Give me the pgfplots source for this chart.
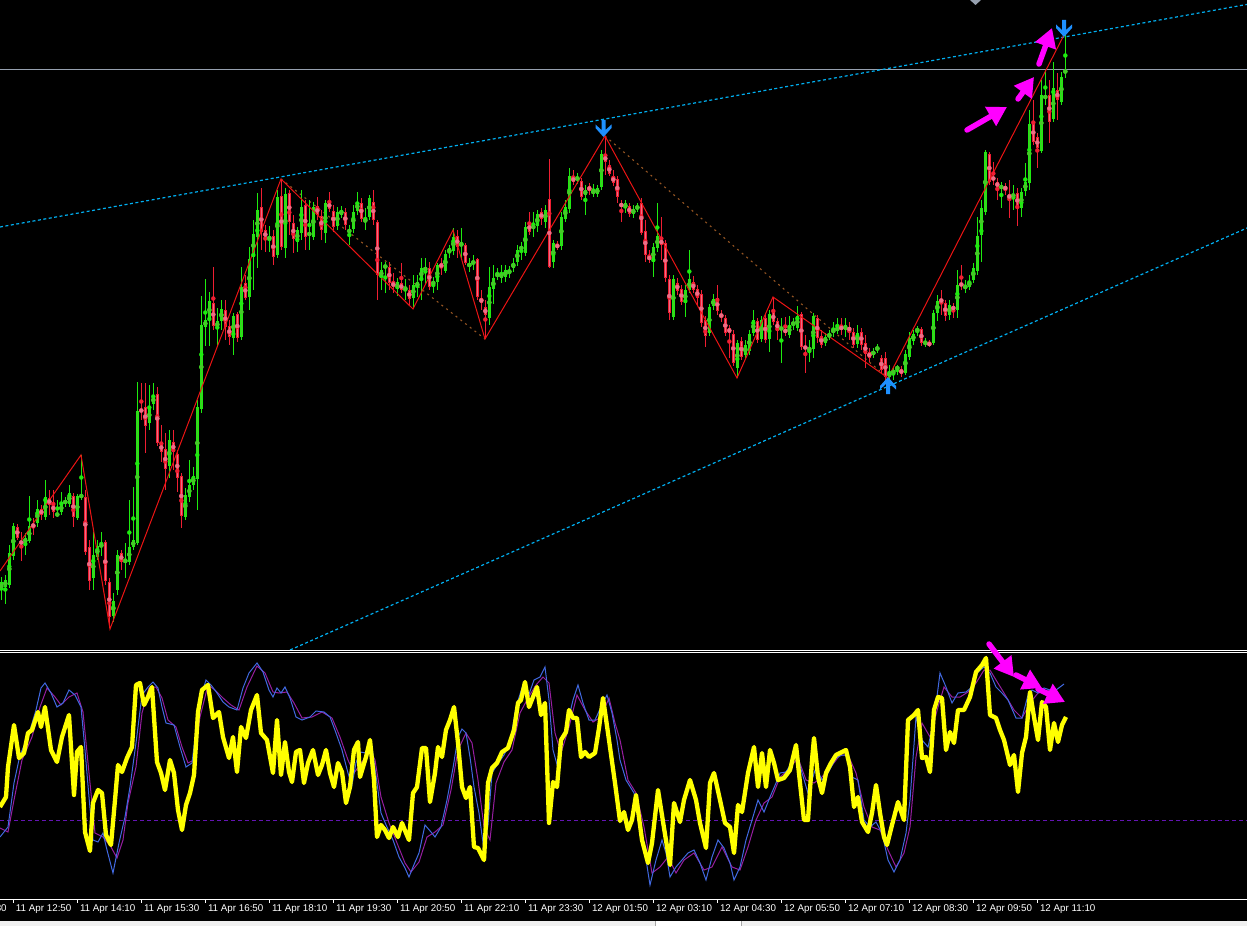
\documentclass[border=0pt]{standalone}
\usepackage{fontspec}
\setmainfont{Liberation Sans}
\usepackage{pgfplots}
\pgfplotsset{compat=1.18}
\usepackage{pgfplotstable}
\usetikzlibrary{arrows.meta}

\definecolor{bullc}{RGB}{30,235,15}
\definecolor{bullin}{RGB}{70,200,40}
\definecolor{bearc}{RGB}{240,30,50}
\definecolor{bearin}{RGB}{235,110,135}
\definecolor{zigc}{RGB}{235,20,20}
\definecolor{chanc}{RGB}{0,175,240}
\definecolor{brownc}{RGB}{150,85,35}
\definecolor{dodger}{RGB}{30,144,255}
\definecolor{hlinec}{RGB}{150,160,175}
\definecolor{stoc}{RGB}{255,255,0}
\definecolor{bluec}{RGB}{65,105,225}
\definecolor{purpc}{RGB}{150,30,160}
\definecolor{levelc}{RGB}{100,20,180}
\definecolor{magc}{RGB}{255,0,255}

% M5 candles, x = candle number (4 px apart), prices in screen rows (top of body, bottom of body, high, low)
\pgfplotstableread{
k t b h l
0 582 590 577 600
1 580 587 575 604
2 553 585 545 588
3 526 556 523 560
6 538 543 533 555
7 526 541 496 543
9 509 523 500 527
11 497 517 480 520
14 513 516 500 517
15 504 512 492 515
16 501 503 497 507
17 493 504 485 507
19 496 518 494 520
20 495 497 455 500
23 555 578 532 590
24 546 557 540 560
25 544 547 532 556
28 601 616 593 622
29 555 590 550 595
31 560 562 543 578
32 547 562 500 565
33 540 547 487 550
34 411 543 382 545
37 407 423 385 430
38 396 404 383 410
42 440 466 430 478
46 495 517 488 520
47 485 497 460 502
48 476 485 467 490
49 407 479 400 510
50 325 409 296 413
51 320 327 279 346
52 301 319 292 346
54 321 328 308 347
55 309 321 300 330
58 316 338 313 355
60 287 337 267 340
62 259 297 247 310
63 234 257 220 290
64 210 237 193 268
67 237 239 226 252
69 197 255 190 258
71 194 248 188 258
74 230 242 227 252
75 207 233 190 240
77 233 235 200 250
78 207 237 202 240
81 203 233 200 243
84 212 226 207 230
85 210 215 206 218
87 230 232 225 245
88 212 229 205 233
89 202 211 192 215
91 219 222 208 230
92 198 217 195 220
95 270 277 262 290
96 265 268 262 293
99 282 289 278 296
101 287 290 279 300
103 285 298 275 308
104 282 287 275 297
105 268 280 258 300
106 267 271 258 285
108 282 284 277 293
109 265 282 263 290
111 254 271 250 273
112 248 253 245 258
113 237 251 228 255
115 243 246 228 260
117 264 266 258 272
118 261 264 255 270
122 287 318 267 325
123 278 289 265 304
124 274 276 268 280
125 273 278 265 283
126 270 277 265 282
127 270 273 266 278
128 263 268 258 272
129 250 262 245 266
130 247 249 242 260
131 227 253 222 256
133 226 228 212 237
134 214 226 210 232
136 210 222 205 228
138 243 262 240 268
140 217 246 212 250
141 207 219 200 222
142 176 209 168 213
144 177 180 173 184
146 190 195 185 215
148 191 193 184 197
149 188 194 185 197
150 154 187 150 190
156 203 208 200 213
158 209 214 205 218
159 206 209 203 212
163 247 262 243 277
164 236 248 203 252
168 279 317 275 320
171 290 303 285 317
172 279 290 250 293
177 307 333 304 336
178 299 306 294 310
184 343 368 340 378
186 345 355 340 358
187 334 351 330 355
188 320 333 310 336
190 320 339 316 342
192 314 339 310 352
195 327 330 318 363
197 325 335 316 338
198 322 325 318 330
199 316 328 306 331
202 347 351 340 362
203 316 349 313 358
206 337 343 333 346
207 334 337 330 340
208 329 333 322 337
209 327 331 318 334
211 325 330 318 337
214 333 344 325 348
218 351 355 348 358
219 347 350 344 353
222 372 377 365 381
223 371 373 367 380
224 367 369 365 375
226 354 373 350 375
227 338 357 332 360
228 334 341 330 345
229 329 331 326 336
231 341 345 338 347
233 313 343 310 345
234 301 313 295 321
237 305 315 300 320
239 285 310 270 318
241 285 289 280 293
242 281 287 275 290
243 268 280 263 283
244 236 271 217 275
245 208 235 200 262
246 152 212 150 215
250 185 189 182 208
253 194 197 185 210
255 192 208 188 217
256 182 191 163 196
257 124 183 110 190
260 95 151 80 153
261 96 98 70 105
263 88 119 62 122
265 77 102 72 105
266 70 73 33 78
}\bulltab

\pgfplotstableread{
k t b h l
4 527 538 524 540
5 541 544 532 561
8 524 527 518 535
10 509 515 505 520
12 498 505 490 515
13 504 512 490 518
18 496 517 493 527
21 497 552 490 555
22 547 581 540 590
26 542 581 540 585
27 582 617 578 628
30 553 562 550 570
35 409 412 383 420
36 407 426 383 453
39 394 443 387 446
40 443 452 425 462
41 449 469 433 490
43 442 452 430 470
44 454 478 450 492
45 476 516 473 528
53 303 326 267 330
56 310 327 300 340
57 326 337 320 345
59 314 338 312 342
61 283 298 275 300
65 207 232 188 250
66 230 239 225 252
68 236 257 230 265
70 196 247 179 250
72 193 222 190 235
73 223 239 215 253
76 205 237 200 250
79 206 215 197 220
80 216 230 210 240
82 202 209 192 212
83 211 227 205 232
86 212 225 208 230
90 203 219 198 222
93 202 220 190 225
94 222 275 220 300
97 267 283 262 290
98 282 287 273 293
100 283 290 263 293
102 290 299 285 305
107 268 287 262 290
110 263 268 258 275
114 236 247 230 258
116 245 263 243 265
119 259 297 258 300
120 298 303 290 310
121 307 315 300 339
132 223 232 212 235
135 212 219 208 225
137 199 267 159 268
139 245 247 241 250
143 177 182 170 185
145 181 197 178 200
147 186 191 183 195
151 155 162 136 175
152 165 174 160 176
153 176 183 170 186
154 179 197 176 203
155 203 207 200 222
157 206 214 203 217
160 203 233 198 235
161 231 255 220 262
162 256 260 250 263
165 239 245 217 260
166 243 278 240 282
167 279 313 275 320
169 283 291 278 295
170 289 302 285 305
173 282 290 276 293
174 289 298 285 305
175 294 323 290 327
176 320 336 316 347
179 298 311 285 315
180 314 317 310 322
181 318 333 315 336
182 328 333 325 358
183 334 363 330 366
185 341 357 337 360
189 321 340 318 343
191 318 340 314 343
193 312 322 297 325
194 321 331 318 340
196 329 333 317 336
200 314 347 312 350
201 346 349 335 373
204 318 338 315 343
205 336 345 330 348
210 326 330 318 335
212 327 331 322 340
213 332 345 328 348
215 332 345 328 350
216 343 354 335 368
217 352 358 348 362
220 358 370 355 373
221 358 377 352 380
225 369 374 366 377
230 329 343 327 346
232 343 345 340 347
235 299 302 290 315
236 303 316 300 321
238 307 309 303 318
240 283 286 265 290
247 154 182 152 185
248 177 180 162 185
249 182 187 178 200
251 186 190 183 195
252 194 199 180 218
254 193 208 188 226
258 123 142 100 145
259 137 148 133 168
262 95 122 80 143
264 90 100 73 120
}\beartab

% oscillator, x and y in screen pixels
\pgfplotstableread{
x y
0 807
6 797
8 767
14 725
19 758
24 753
28 733
32 730
38 712
41 727
45 707
51 750
57 762
62 737
69 715
74 795
77 752
81 747
85 832
90 851
93 803
98 790
102 793
106 835
111 845
115 800
118 765
122 772
127 758
132 747
136 685
140 683
144 705
148 697
152 687
157 762
161 773
165 790
170 760
174 773
178 810
182 830
186 805
190 793
194 775
198 712
202 690
208 685
213 718
219 712
223 737
229 758
233 737
237 772
241 727
246 738
251 710
257 695
261 733
267 740
273 773
277 720
281 775
285 742
289 772
292 782
296 752
300 750
304 783
308 763
313 750
318 775
322 765
326 750
330 773
334 787
338 763
342 772
346 803
350 787
354 750
358 742
360 777
366 757
370 740
374 780
377 837
381 825
385 830
389 838
393 827
398 837
402 823
406 833
409 840
413 793
417 787
422 748
426 748
430 802
435 773
438 747
442 757
446 730
450 720
454 707
458 743
462 787
466 798
470 787
474 847
478 848
484 860
488 783
492 768
497 763
502 752
508 748
514 730
518 703
521 700
525 682
529 707
533 697
537 687
541 715
545 703
549 823
553 782
557 787
561 740
566 732
569 710
573 718
577 718
581 757
585 752
589 757
595 753
599 728
603 698
609 740
615 783
620 821
624 812
628 830
632 820
636 795
642 840
648 863
652 843
658 790
664 828
670 865
674 803
680 822
684 800
690 780
696 800
700 823
706 848
710 783
714 773
720 800
725 823
730 827
734 853
738 805
742 812
748 773
754 747
758 787
762 753
766 787
770 750
774 763
778 780
784 778
790 770
796 745
800 783
804 820
808 820
812 760
814 738
818 777
822 793
826 773
831 763
836 755
842 752
846 750
850 767
854 807
858 797
862 822
868 832
872 813
876 785
880 813
884 837
887 845
892 825
898 802
904 820
908 720
914 715
918 710
922 758
926 757
930 772
934 710
938 697
942 698
946 750
950 732
954 743
958 710
964 710
970 697
976 672
982 665
986 658
990 715
996 718
1000 730
1004 740
1010 765
1014 755
1018 792
1022 753
1026 737
1030 692
1034 717
1038 740
1042 702
1046 707
1050 750
1054 723
1058 742
1062 725
1066 717
}\yellowtab

\pgfplotstableread{
x y
0 837
4 832
8 827
14 783
20 755
28 737
36 710
41 688
45 683
51 693
57 707
63 703
69 690
75 695
81 707
85 750
89 797
93 840
98 842
103 833
107 850
113 873
119 843
125 817
130 787
136 743
142 695
148 687
153 682
158 688
162 707
166 723
174 725
180 747
186 767
192 763
196 730
200 700
206 680
211 685
217 693
223 702
229 707
237 710
243 688
249 673
257 663
263 672
269 690
273 697
277 688
281 693
285 687
290 698
296 717
302 720
310 717
316 711
324 712
330 717
336 733
342 750
348 773
352 785
356 763
360 752
366 753
372 747
377 783
381 813
387 827
393 840
399 857
405 868
409 877
413 867
419 853
425 825
431 832
435 837
441 827
447 800
453 768
458 737
462 729
466 733
470 757
474 787
479 813
484 850
488 825
492 773
497 765
504 755
510 743
516 707
522 688
528 697
534 680
540 677
545 667
549 700
553 750
558 768
563 737
569 717
573 700
578 685
583 703
589 720
595 720
601 707
607 695
612 713
617 740
620 760
626 780
634 793
640 817
644 847
650 885
656 860
662 840
666 853
670 877
676 867
682 860
688 853
694 850
700 863
706 880
712 857
718 840
724 848
730 863
734 880
740 867
746 840
752 820
758 800
764 812
770 797
776 783
780 773
786 772
792 762
796 750
802 773
808 793
812 780
816 767
822 780
828 773
836 758
842 755
846 755
852 777
858 780
864 820
870 827
876 822
882 833
888 860
894 872
900 860
906 833
910 800
916 717
922 740
928 747
934 720
940 673
946 687
952 703
958 693
966 692
972 687
978 672
984 667
990 673
996 687
1002 693
1008 700
1016 718
1022 718
1028 695
1032 690
1038 693
1044 688
1050 690
1056 690
1060 687
1064 684
}\bluetab

\pgfplotstableread{
x y
0 828
8 832
14 800
22 760
32 737
40 707
47 688
55 697
61 705
69 697
77 693
83 712
89 773
95 833
103 837
111 847
117 858
123 840
128 803
136 767
142 713
149 688
156 687
162 698
168 720
176 727
182 747
188 763
194 760
200 717
208 685
215 690
223 698
231 705
239 710
247 687
257 666
265 673
273 692
279 693
287 692
294 703
302 718
312 717
322 712
332 718
340 737
348 760
354 773
362 762
370 750
375 760
381 797
389 823
397 843
405 863
411 872
419 862
427 837
435 832
443 825
451 790
458 750
466 733
472 743
478 780
484 827
490 840
496 783
504 762
512 750
520 713
528 698
536 685
543 677
549 683
555 733
561 753
569 727
577 695
585 710
593 722
601 717
609 698
615 723
620 740
628 780
636 793
644 827
652 873
660 867
668 857
676 873
684 860
694 853
704 870
712 867
722 847
732 867
740 870
748 847
756 820
764 803
772 797
780 777
788 770
798 758
806 780
814 783
822 777
830 768
840 755
848 755
856 773
864 807
872 827
880 830
888 850
896 867
904 853
910 827
916 757
922 723
930 737
938 707
944 687
952 697
960 697
968 692
976 683
984 670
990 670
996 680
1004 693
1014 710
1022 718
1030 703
1038 693
1044 692
1050 690
1056 692
}\purptab

% Wingdings-like arrows, tip at the origin
\pgfdeclareplotmark{mtdown}{%
  \pgfpathmoveto{\pgfpoint{0pt}{0pt}}
  \pgfpathlineto{\pgfpoint{-8pt}{9pt}}
  \pgfpathlineto{\pgfpoint{-8pt}{12.5pt}}
  \pgfpathlineto{\pgfpoint{-2pt}{7pt}}
  \pgfpathlineto{\pgfpoint{-2pt}{17pt}}
  \pgfpathlineto{\pgfpoint{2pt}{17pt}}
  \pgfpathlineto{\pgfpoint{2pt}{7pt}}
  \pgfpathlineto{\pgfpoint{8pt}{12.5pt}}
  \pgfpathlineto{\pgfpoint{8pt}{9pt}}
  \pgfpathclose
  \pgfusepathqfill}
\pgfdeclareplotmark{mtup}{%
  \pgfpathmoveto{\pgfpoint{0pt}{0pt}}
  \pgfpathlineto{\pgfpoint{-8pt}{-9pt}}
  \pgfpathlineto{\pgfpoint{-8pt}{-12.5pt}}
  \pgfpathlineto{\pgfpoint{-2pt}{-7pt}}
  \pgfpathlineto{\pgfpoint{-2pt}{-17pt}}
  \pgfpathlineto{\pgfpoint{2pt}{-17pt}}
  \pgfpathlineto{\pgfpoint{2pt}{-7pt}}
  \pgfpathlineto{\pgfpoint{8pt}{-12.5pt}}
  \pgfpathlineto{\pgfpoint{8pt}{-9pt}}
  \pgfpathclose
  \pgfusepathqfill}

\pgfplotsset{
  wick/.style={only marks, mark=none, forget plot,
    error bars/.cd, y dir=both, y explicit, error mark=none,
    error bar style={line width=1pt}},
  body/.style={only marks, mark=none, forget plot,
    error bars/.cd, y dir=both, y explicit, error mark=none,
    error bar style={line width=3.3pt}},
  inner/.style={only marks, mark=none, forget plot,
    error bars/.cd, y dir=both, y explicit, error mark=none,
    error bar style={line width=1pt}},
}

\begin{document}
\begin{tikzpicture}[x=1pt,y=1pt]
\fill[black] (0,0) rectangle (1247,926);

% price window
\begin{axis}[
  at={(0pt,276pt)}, anchor=south west, scale only axis,
  width=1247pt, height=650pt,
  xmin=0, xmax=1247, ymin=0, ymax=650, y dir=reverse,
  hide axis, clip=true]
  \addplot[hlinec, line width=1pt] coordinates {(0,70) (1247,70)};
  \addplot[chanc, line width=1.2pt, dash pattern=on 3pt off 2.5pt] coordinates {(0,227) (1247,4.4)};
  \addplot[chanc, line width=1.2pt, dash pattern=on 3pt off 2.5pt] coordinates {(280,654.4) (1247,228)};
  \addplot[brownc, line width=1.1pt, dash pattern=on 2pt off 4pt] coordinates {(281,179) (485,339)};
  \addplot[brownc, line width=1.1pt, dash pattern=on 2pt off 4pt] coordinates {(605,136) (888,378)};
  % candles
  \addplot[bullc, wick] table[x expr=4*\thisrow{k}+1.3, y expr=0.5*(\thisrow{h}+\thisrow{l}), y error expr=0.5*(\thisrow{l}-\thisrow{h})] {\bulltab};
  \addplot[bearc, wick] table[x expr=4*\thisrow{k}+1.3, y expr=0.5*(\thisrow{h}+\thisrow{l}), y error expr=0.5*(\thisrow{l}-\thisrow{h})] {\beartab};
  \addplot[bullc, body] table[x expr=4*\thisrow{k}+1.3, y expr=0.5*(\thisrow{t}+\thisrow{b}), y error expr=0.5*(\thisrow{b}-\thisrow{t})] {\bulltab};
  \addplot[bearc, body] table[x expr=4*\thisrow{k}+1.3, y expr=0.5*(\thisrow{t}+\thisrow{b}), y error expr=0.5*(\thisrow{b}-\thisrow{t})] {\beartab};
  \addplot[bullin, inner] table[x expr=4*\thisrow{k}+1.3, y expr=0.5*(\thisrow{t}+\thisrow{b}), y error expr={max(0.5*(\thisrow{b}-\thisrow{t})-1.2,0)}] {\bulltab};
  \addplot[bearin, inner] table[x expr=4*\thisrow{k}+1.3, y expr=0.5*(\thisrow{t}+\thisrow{b}), y error expr={max(0.5*(\thisrow{b}-\thisrow{t})-1.2,0)}] {\beartab};
  % zigzag
  \addplot[zigc, line width=1pt] coordinates {
    (0,571) (81,455) (110,629) (281,179) (413,309) (453,230) (485,339)
    (605,136) (737,378) (773,297) (888,378) (1065,33)};
  \addplot[dodger, only marks, mark=mtdown] coordinates {(603.5,137) (1064,37)};
  \addplot[dodger, only marks, mark=mtup] coordinates {(888,377)};
\end{axis}

% oscillator window
\begin{axis}[
  at={(0pt,27pt)}, anchor=south west, scale only axis,
  width=1247pt, height=244pt,
  xmin=0, xmax=1247, ymin=655, ymax=899, y dir=reverse,
  hide axis, clip=true]
  \addplot[levelc, line width=1pt, dash pattern=on 4pt off 3pt] coordinates {(0,820) (1247,820)};
  \addplot[purpc, line width=1pt] table {\purptab};
  \addplot[bluec, line width=1pt] table {\bluetab};
  \addplot[stoc, line width=4.3pt, line join=round] table {\yellowtab};
\end{axis}

% time scale
\begin{axis}[
  at={(0pt,5pt)}, anchor=south west, scale only axis,
  width=1247pt, height=22pt,
  xmin=0, xmax=1247, ymin=0, ymax=1,
  axis x line*=top, axis y line=none,
  axis line style={white, line width=1pt},
  tick align=inside, major tick length=4pt,
  tick style={white, line width=1pt},
  xtick={13.3,77.3,141.3,205.3,269.3,333.3,397.3,461.3,525.3,589.3,653.3,717.3,781.3,845.3,909.3,973.3,1037.3},
  xticklabels={11 Apr 12:50,11 Apr 14:10,11 Apr 15:30,11 Apr 16:50,11 Apr 18:10,11 Apr 19:30,11 Apr 20:50,11 Apr 22:10,11 Apr 23:30,12 Apr 01:50,12 Apr 03:10,12 Apr 04:30,12 Apr 05:50,12 Apr 07:10,12 Apr 08:30,12 Apr 09:50,12 Apr 11:10},
  x tick label style={anchor=north west, text=white, inner sep=0pt, xshift=2.5pt, yshift=-5pt, font=\fontsize{9.8}{11}\selectfont},
  ]
  \addplot[draw=none] coordinates {(0,0)};
\end{axis}
\node[anchor=north west, text=white, inner sep=0pt, font=\fontsize{9.8}{11}\selectfont] at (-48.2,22) {11 Apr 11:30};

% window separators and status bar
\draw[white, line width=1pt] (0,275.5) -- (1247,275.5);
\draw[white, line width=1pt] (0,273.5) -- (1247,273.5);
\fill[black!6] (0,0) rectangle (1247,5);
\fill[white] (655,0) rectangle (741,5);
\draw[black!35, line width=0.8pt] (655,0) -- (655,5) (741,0) -- (741,5);
\fill[hlinec] (970,926) -- (981,926) -- (975.5,921) -- cycle;

% hand-drawn magenta arrows
\begin{scope}[magc, line width=5.5pt, line cap=round,
  arr/.style={-{Triangle[length=19pt,width=21pt]}}]
  \draw[arr] (967,926-130) -- (1007,926-107);
  \draw[arr] (1018,926-99) -- (1034,926-77);
  \draw[arr] (1039,926-64) -- (1052,926-28);
  \draw[arr] (989,926-644) -- (1014,926-677);
  \draw[arr] (1016,926-675) -- (1042,926-688);
  \draw[arr] (1038,926-689) -- (1065,926-702);
\end{scope}
\pgfresetboundingbox
\path[use as bounding box] (0,0) rectangle (1247,926);
\end{tikzpicture}
\end{document}
